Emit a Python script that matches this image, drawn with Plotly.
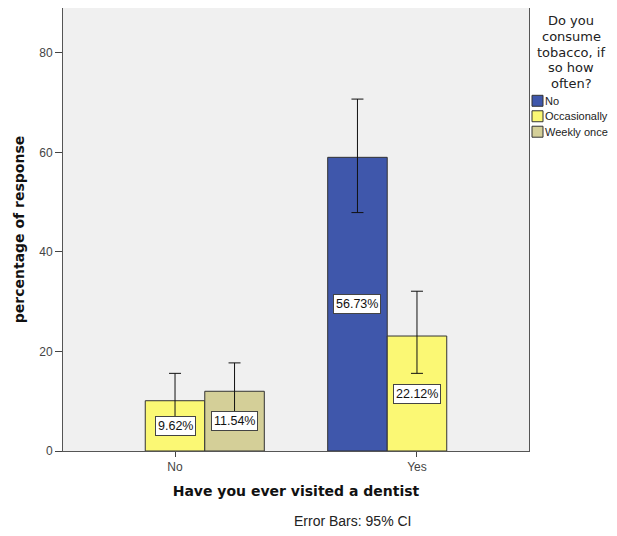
import plotly.graph_objects as go

categories = ["No", "Yes"]
series_names = ["No", "Occasionally", "Weekly once"]
colors = ["#3F57AB", "#FBF874", "#D4CF98"]

# bar heights (percent)
values = [
    [None, 59.0],
    [10.1, 23.1],
    [12.0, None],
]
ci_upper = [
    [None, 70.7],
    [15.6, 32.1],
    [17.7, None],
]
ci_lower = [
    [None, 47.9],
    [5.4, 15.6],
    [7.4, None],
]
labels = [
    [None, "56.73%"],
    ["9.62%", "22.12%"],
    ["11.54%", None],
]
legend_title_lines = ["Do you", "consume", "tobacco, if", "so how", "often?"]
y_ticks = [0, 20, 40, 60, 80]

BOLD = "DejaVu Sans, Verdana, sans-serif"
SANS = "Liberation Sans, Arial, sans-serif"
OFF = 8  # page body margin
W, H = 617 - OFF, 536 - 2 * OFF
# plot area in page pixels
L, R, T, B = 63, 529, 7, 451

fig = go.Figure()

for k, name in enumerate(series_names):
    vals = values[k]
    up = [None if v is None else u - v for v, u in zip(vals, ci_upper[k])]
    lo = [None if v is None else v - l for v, l in zip(vals, ci_lower[k])]
    fig.add_trace(go.Bar(
        x=[0, 1], y=vals, name=name,
        marker=dict(color=colors[k], line=dict(color="#333333", width=1)),
        error_y=dict(type="data", symmetric=False, array=up, arrayminus=lo,
                     color="#111111", thickness=1, width=6),
        showlegend=False,
    ))

bargap = 0.262
slot = (1 - bargap) / 3
for k in range(3):
    for i in range(2):
        if labels[k][i] is None:
            continue
        fig.add_annotation(
            x=i + (k - 1) * slot, y=values[k][i] / 2, xref="x", yref="y",
            text=labels[k][i], showarrow=False,
            font=dict(family=SANS, size=12.5, color="#111111"),
            bgcolor="white", bordercolor="#444444", borderwidth=1, borderpad=2,
        )

def px(p):
    return (p - L) / (R - L)
def py(p):
    return (B - p) / (B - T)

for j, line in enumerate(legend_title_lines):
    fig.add_annotation(x=px(571), y=py(20 + j * 15.7), xref="paper", yref="paper",
                       text=line, showarrow=False,
                       font=dict(family=BOLD, size=13, color="#222222"),
                       xanchor="center", yanchor="middle")
for k, name in enumerate(series_names):
    cy = 100 + k * 15.5
    fig.add_shape(type="rect", xref="paper", yref="paper",
                  x0=px(532), x1=px(543), y0=py(cy - 5.5), y1=py(cy + 5.5),
                  fillcolor=colors[k], line=dict(color="#333333", width=1))
    fig.add_annotation(x=px(543), y=py(cy), xref="paper", yref="paper",
                       text=name, showarrow=False, xanchor="left", yanchor="middle",
                       font=dict(family=SANS, size=11, color="#222222"))

fig.add_annotation(x=px(352), y=py(521), xref="paper", yref="paper",
                   text="Error Bars: 95% CI", showarrow=False,
                   xanchor="center", yanchor="middle",
                   font=dict(family=SANS, size=14, color="#222222"))

fig.update_layout(
    width=W, height=H,
    margin=dict(l=L - OFF, r=617 - R, t=0, b=OFF + H - B),
    paper_bgcolor="white", plot_bgcolor="#F0F0F0",
    barmode="group", bargap=bargap, bargroupgap=0,
    font=dict(family=SANS, size=12, color="#444444"),
)
fig.update_xaxes(
    range=[-0.463, 1.463], tickvals=[0, 1], ticktext=categories,
    ticks="outside", ticklen=5, tickcolor="#444444",
    showline=True, linecolor="#555555", linewidth=1, mirror=True,
    showgrid=False, zeroline=False,
    title=dict(text="<b>Have you ever visited a dentist</b>", standoff=12,
               font=dict(family=BOLD, size=14, color="#111111")),
    tickfont=dict(family=SANS, size=12, color="#444444"),
)
fig.update_yaxes(
    range=[0, 89.0], tickvals=y_ticks,
    ticks="outside", ticklen=7, tickcolor="#444444",
    showline=True, linecolor="#555555", linewidth=1, mirror=True,
    showgrid=False, zeroline=False,
    title=dict(text="<b>percentage of response</b>", standoff=11,
               font=dict(family=BOLD, size=14, color="#111111")),
    tickfont=dict(family=SANS, size=12, color="#444444"),
)

fig.write_html("out.html")
